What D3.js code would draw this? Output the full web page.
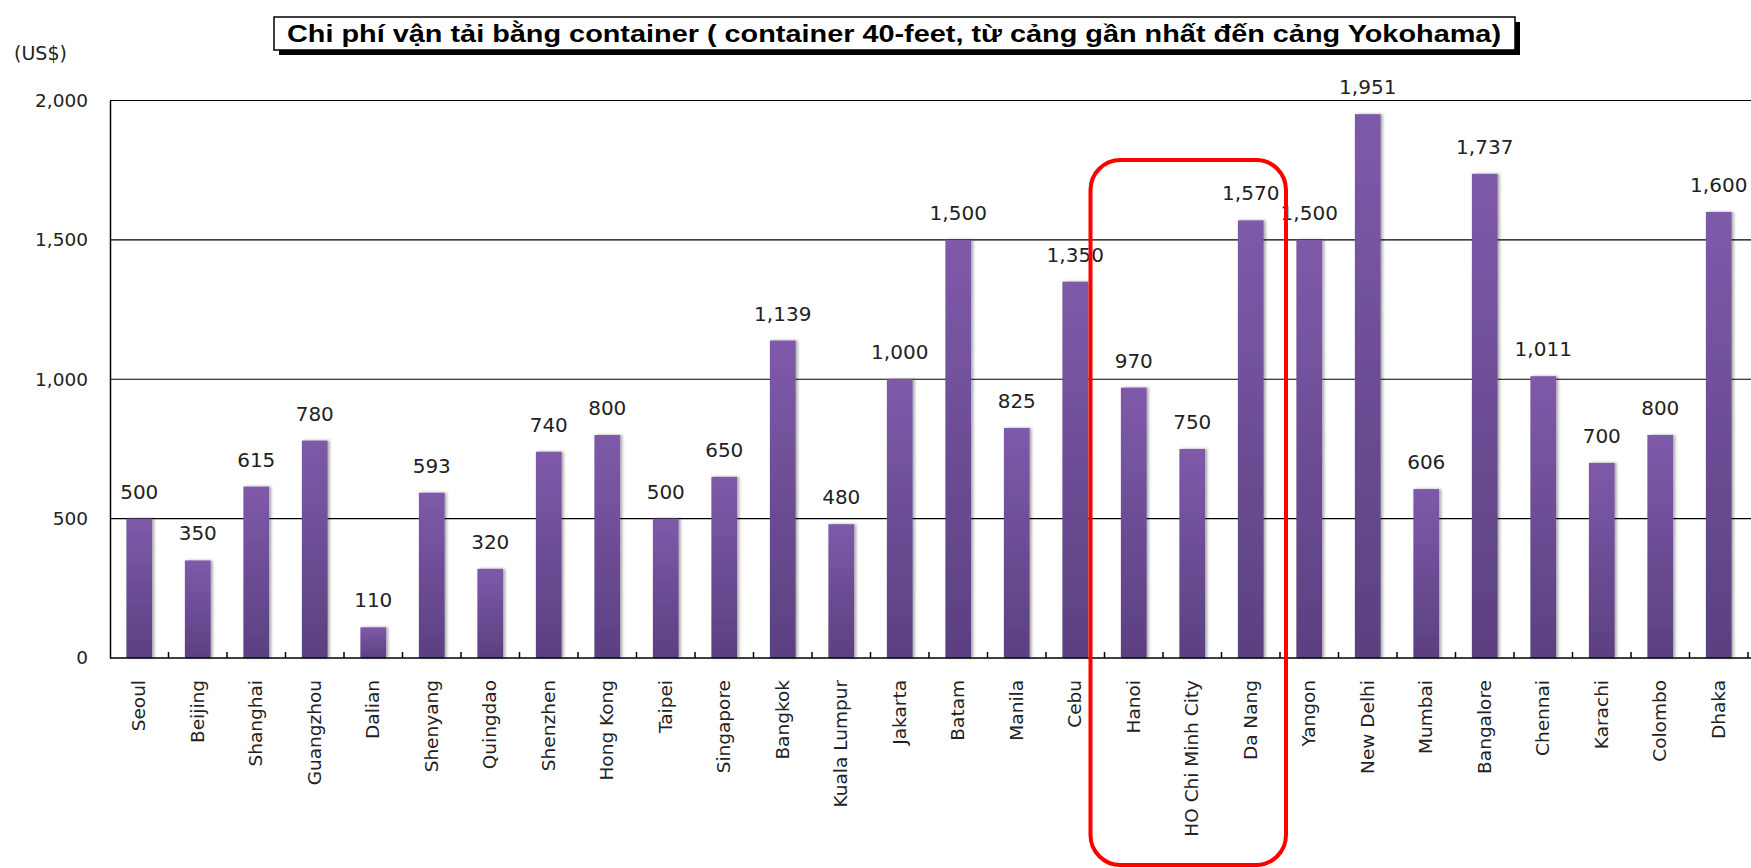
<!DOCTYPE html>
<html>
<head>
<meta charset="utf-8">
<script src="https://cdn.jsdelivr.net/npm/d3@7"></script>
<style>
  body { margin: 0; background: #fff; }
  svg { display: block; }
</style>
</head>
<body>
<svg width="1751" height="868"></svg>
<script>
let width = 1751,
    height = 868;
let svg = d3.select("svg");

// data
let cities = ["Seoul", "Beijing", "Shanghai", "Guangzhou", "Dalian", "Shenyang", "Quingdao",
    "Shenzhen", "Hong Kong", "Taipei", "Singapore", "Bangkok", "Kuala Lumpur", "Jakarta",
    "Batam", "Manila", "Cebu", "Hanoi", "HO Chi Minh City", "Da Nang", "Yangon", "New Delhi",
    "Mumbai", "Bangalore", "Chennai", "Karachi", "Colombo", "Dhaka"];
let costs = [500, 350, 615, 780, 110, 593, 320, 740, 800, 500, 650, 1139, 480, 1000,
    1500, 825, 1350, 970, 750, 1570, 1500, 1951, 606, 1737, 1011, 700, 800, 1600];
let yTicks = [0, 500, 1000, 1500, 2000];
let highlighted = ["Hanoi", "HO Chi Minh City", "Da Nang"];
let title = "Chi phí vận tải bằng container ( container 40-feet, từ cảng gần nhất đến cảng Yokohama)";

let plotLeft = 110, plotRight = 1748, plotTop = 100.5, plotBottom = 658;

let scale_x = d3.scaleBand().domain(cities).range([plotLeft, plotRight]).paddingInner(0.56).paddingOuter(0.28);
let scale_y = d3.scaleLinear().domain([0, 2000]).range([plotBottom, plotTop]);
let band = d3.scaleBand().domain(cities).range([plotLeft, plotRight]);

// gradient + shadow for bars
let defs = svg.append("defs");
let grad = defs.append("linearGradient").attr("id", "barGrad")
    .attr("x1", 0).attr("y1", 0).attr("x2", 0).attr("y2", 1);
grad.append("stop").attr("offset", "0%").attr("stop-color", "#7e5aa9");
grad.append("stop").attr("offset", "100%").attr("stop-color", "#5b4081");
let shadow = defs.append("filter").attr("id", "shadow")
    .attr("x", "-30%").attr("y", "-10%").attr("width", "160%").attr("height", "120%");
shadow.append("feDropShadow").attr("dx", 2).attr("dy", 0).attr("stdDeviation", 1.5)
    .attr("flood-color", "#000").attr("flood-opacity", 0.35);

// gridlines
svg.append("g").selectAll("line").data(yTicks.filter(d => d > 0)).enter().append("line")
    .attr("x1", plotLeft).attr("x2", width)
    .attr("y1", d => scale_y(d)).attr("y2", d => scale_y(d))
    .attr("stroke", "#000").attr("stroke-width", 1.2);

// y axis
let y_axis = d3.axisLeft(scale_y).tickValues(yTicks).tickSize(0).tickPadding(22)
    .tickFormat(d3.format(","));
let gy = svg.append("g").attr("transform", "translate(" + plotLeft + ",0)").call(y_axis);
gy.select(".domain").attr("stroke", "#000").attr("stroke-width", 1.5);
gy.selectAll("text").style("font-family", "DejaVu Sans").style("font-size", "18.5px").attr("fill", "#222");

svg.append("text").attr("x", 14).attr("y", 60)
    .style("font-family", "DejaVu Sans").style("font-size", "19px").attr("fill", "#222")
    .text("(US$)");

// bars
svg.append("g").selectAll("rect").data(cities).enter().append("rect")
    .attr("x", d => scale_x(d))
    .attr("width", scale_x.bandwidth())
    .attr("y", (d, i) => scale_y(costs[i]))
    .attr("height", (d, i) => plotBottom - scale_y(costs[i]))
    .attr("fill", "url(#barGrad)")
    .attr("filter", "url(#shadow)");

// value labels
svg.append("g").selectAll("text").data(cities).enter().append("text")
    .attr("x", d => scale_x(d) + scale_x.bandwidth() / 2)
    .attr("y", (d, i) => scale_y(costs[i]) - 20)
    .attr("text-anchor", "middle")
    .style("font-family", "DejaVu Sans").style("font-size", "20px").attr("fill", "#222")
    .text((d, i) => d3.format(",")(costs[i]));

// x axis
svg.append("line").attr("x1", plotLeft).attr("x2", width).attr("y1", plotBottom).attr("y2", plotBottom)
    .attr("stroke", "#000").attr("stroke-width", 1.5);
svg.append("g").selectAll("line").data(cities).enter().append("line")
    .attr("x1", d => band(d) + band.bandwidth()).attr("x2", d => band(d) + band.bandwidth())
    .attr("y1", plotBottom).attr("y2", plotBottom - 6)
    .attr("stroke", "#000").attr("stroke-width", 1.5);

svg.append("g").selectAll("text").data(cities).enter().append("text")
    .attr("transform", d => "translate(" + (scale_x(d) + scale_x.bandwidth() / 2 + 6) + "," + (plotBottom + 22) + ") rotate(-90)")
    .attr("text-anchor", "end")
    .style("font-family", "DejaVu Sans").style("font-size", "18.5px").attr("fill", "#222")
    .text(d => d);

// title box
svg.append("rect").attr("x", 279).attr("y", 22).attr("width", 1241).attr("height", 33).attr("fill", "#000");
svg.append("rect").attr("x", 274).attr("y", 17).attr("width", 1241).attr("height", 33)
    .attr("fill", "#fff").attr("stroke", "#000").attr("stroke-width", 1.5);
svg.append("text").attr("x", 894).attr("y", 42)
    .attr("text-anchor", "middle")
    .style("font-family", "Liberation Sans, Arial").style("font-weight", "bold").style("font-size", "24px")
    .attr("textLength", 1214).attr("lengthAdjust", "spacingAndGlyphs")
    .text(title);

// red highlight box around Vietnamese ports
let firstH = highlighted[0], lastH = highlighted[highlighted.length - 1];
svg.append("rect")
    .attr("x", band(firstH) - 14)
    .attr("y", 160)
    .attr("width", band(lastH) + band.bandwidth() + 10 - (band(firstH) - 10))
    .attr("height", 705)
    .attr("rx", 30).attr("ry", 30)
    .attr("fill", "none").attr("stroke", "#ff0000").attr("stroke-width", 4);
</script>
</body>
</html>
